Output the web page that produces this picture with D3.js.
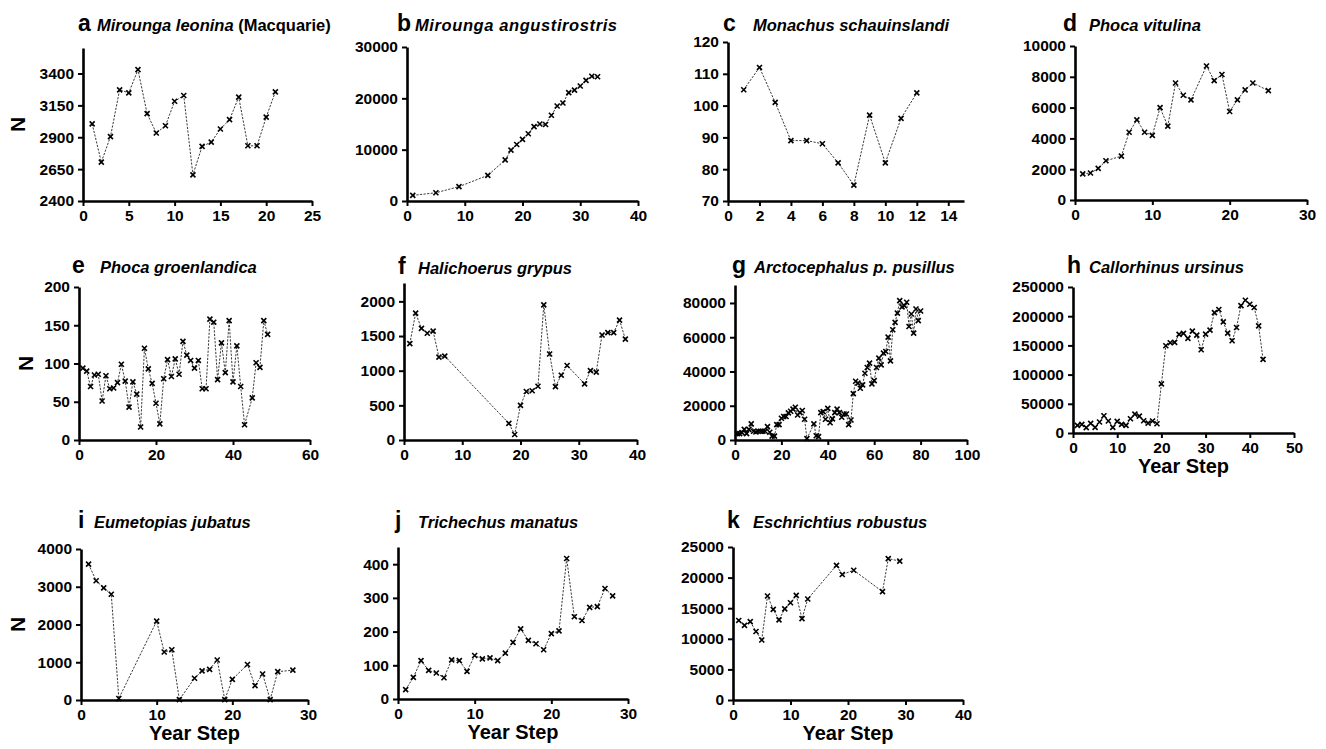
<!DOCTYPE html>
<html>
<head>
<meta charset="utf-8">
<script src="https://cdn.jsdelivr.net/npm/d3@7"></script>
<style>
  body { margin: 0; background: #fff; }
  svg { display: block; font-family: Arial, "Liberation Sans", sans-serif; }
</style>
</head>
<body>
<svg width="1326" height="749"></svg>
<script>
// ---- data ----
const leoninaYear = [1,2,3,4,5,6,7,8,9,10,11,12,13,14,15,16,17,18,19,20,21];
const leoninaN = [3005,2705,2905,3272,3248,3430,3085,2933,2990,3182,3227,2605,2828,2862,2965,3038,3215,2833,2833,3058,3256];

const angustiYear = [1,5,9,14,17,18,19,20,21,22,23,24,25,26,27,28,29,30,31,32,33];
const angustiN = [1100,1600,2800,5000,8000,9900,11000,12000,13100,14500,15000,14900,16700,18500,19100,21100,21600,22400,23500,24300,24200];

const monachusYear = [1,2,3,4,5,6,7,8,9,10,11,12];
const monachusN = [105,112,101,89,89,88,82,75,97,82,96,104];

const vitulinaYear = [1,2,3,4,6,7,8,9,10,11,12,13,14,15,17,18,19,20,21,22,23,25];
const vitulinaN = [1700,1750,2050,2550,2850,4400,5200,4400,4200,6000,4800,7600,6800,6500,8700,7750,8150,5750,6500,7150,7600,7100];

const groenYear = [1,2,3,4,5,6,7,8,9,10,11,12,13,14,15,16,17,18,19,20,21,22,23,24,25,26,27,28,29,30,31,32,33,34,35,36,37,38,39,40,41,42,43,45,46,47,48,49];
const groenN = [94,90,70,85,86,51,84,67,68,75,99,77,43,76,60,17,120,93,74,48,21,80,105,83,106,86,129,111,104,94,104,67,67,158,154,79,127,88,156,76,123,70,20,55,101,95,156,138];

const grypusYear = [1,2,3,4,5,6,7,18,19,20,21,22,23,24,25,26,27,28,31,32,33,34,35,36,37,38];
const grypusN = [1390,1830,1610,1540,1570,1195,1210,240,80,500,700,710,775,1950,1240,770,935,1075,810,1000,980,1515,1550,1550,1730,1455];

const pusillusYear = [1,2,3,4,5,6,7,8,9,10,11,12,13,14,15,16,17,18,19,20,21,22,23,24,25,26,27,28,29,30,31,34,35,36,37,38,39,40,41,42,43,44,45,46,47,48,49,50,51,52,53,54,55,56,57,58,59,60,61,62,63,64,65,66,67,68,69,70,71,72,73,74,75,76,77,78,79,80];
const pusillusN = [3700,3700,4300,6200,3700,6200,9400,5100,4700,5100,5100,5100,5100,7800,4500,2300,2300,9000,9000,12700,13700,13700,15800,16800,18000,19100,14600,16000,17200,12100,800,9400,2500,2000,16000,16600,12100,18500,10100,12300,16000,18000,16000,13300,15200,15200,9000,11700,27100,34300,33200,30200,32200,39000,42300,44900,32800,34700,42300,47800,43900,50700,51700,60100,46200,64400,68700,74100,81400,77700,78400,80400,66300,73600,62400,76500,69700,75300];

const ursinusYear = [1,2,3,4,5,6,7,8,9,10,11,12,13,14,15,16,17,18,19,20,21,22,23,24,25,26,27,28,29,30,31,32,33,34,35,36,37,38,39,40,41,42,43];
const ursinusN = [13000,14800,9100,16500,9700,18800,29500,20500,9700,19900,14800,13100,24400,32400,29000,21000,17000,20500,15900,84100,149400,154500,155100,168800,170500,162000,174400,167600,142600,169300,176100,206200,211400,190300,171000,158000,180700,218200,227300,220500,214800,183500,126100];

const jubatusYear = [1,2,3,4,5,10,11,12,13,15,16,17,18,19,20,22,23,24,25,26,28];
const jubatusN = [3600,3160,2970,2800,40,2090,1270,1330,10,575,770,810,1060,10,547,940,380,690,10,750,790];

const manatusYear = [1,2,3,4,5,6,7,8,9,10,11,12,13,14,15,16,17,18,19,20,21,22,23,24,25,26,27,28];
const manatusN = [28,64,114,85,77,63,116,114,82,129,119,122,114,136,168,208,174,164,146,194,202,417,244,233,272,274,328,306];

const robustusYear = [1,2,3,4,5,6,7,8,9,10,11,12,13,18,19,21,26,27,29];
const robustusN = [13000,12200,12800,11200,9800,17000,14800,13100,14900,15900,17100,13300,16500,22000,20500,21200,17700,23100,22700];

// tick labels
const aYTicks = [2400,2650,2900,3150,3400], aXTicks = [0,5,10,15,20,25];
const bYTicks = [0,10000,20000,30000], bXTicks = [0,10,20,30,40];
const cYTicks = [70,80,90,100,110,120], cXTicks = [0,2,4,6,8,10,12,14];
const dYTicks = [0,2000,4000,6000,8000,10000], dXTicks = [0,10,20,30];
const eYTicks = [0,50,100,150,200], eXTicks = [0,20,40,60];
const fYTicks = [0,500,1000,1500,2000], fXTicks = [0,10,20,30,40];
const gYTicks = [0,20000,40000,60000,80000], gXTicks = [0,20,40,60,80,100];
const hYTicks = [0,50000,100000,150000,200000,250000], hXTicks = [0,10,20,30,40,50];
const iYTicks = [0,1000,2000,3000,4000], iXTicks = [0,10,20,30];
const jYTicks = [0,100,200,300,400], jXTicks = [0,10,20,30];
const kYTicks = [0,5000,10000,15000,20000,25000], kXTicks = [0,10,20,30,40];

// ---- panel layout ----
const panels = [
  {letter:"a", name:"Mirounga leonina", extra:" (Macquarie)", years:leoninaYear, n:leoninaN, xd:[0,25], yd:[2400,3600], xt:aXTicks, yt:aYTicks,
   px:[83,312], py:[201,48], lx:78, nx:97, by:31, yLab:18},
  {letter:"b", name:"Mirounga angustirostris", years:angustiYear, n:angustiN, xd:[0,40], yd:[0,30000], xt:bXTicks, yt:bYTicks,
   px:[407,638], py:[201,47], lx:397, nx:415, by:31, ls:0.6},
  {letter:"c", name:"Monachus schauinslandi", years:monachusYear, n:monachusN, xd:[0,15], yd:[70,120], xt:cXTicks, yt:cYTicks,
   px:[728,964], py:[201,42], lx:723, nx:753, by:31},
  {letter:"d", name:"Phoca vitulina", years:vitulinaYear, n:vitulinaN, xd:[0,30], yd:[0,10000], xt:dXTicks, yt:dYTicks,
   px:[1075,1307], py:[200,46], lx:1063, nx:1089, by:31},
  {letter:"e", name:"Phoca groenlandica", years:groenYear, n:groenN, xd:[0,60], yd:[0,200], xt:eXTicks, yt:eYTicks,
   px:[79,310], py:[440,287], lx:72, nx:100, by:273, yLab:26},
  {letter:"f", name:"Halichoerus grypus", years:grypusYear, n:grypusN, xd:[0,40], yd:[0,2265], xt:fXTicks, yt:fYTicks,
   px:[404,637], py:[440,283], lx:398, nx:418, by:274},
  {letter:"g", name:"Arctocephalus p. pusillus", years:pusillusYear, n:pusillusN, xd:[0,100], yd:[0,90500], xt:gXTicks, yt:gYTicks,
   px:[735,967], py:[440,285], lx:732, nx:754, by:273},
  {letter:"h", name:"Callorhinus ursinus", years:ursinusYear, n:ursinusN, xd:[0,50], yd:[0,250000], xt:hXTicks, yt:hYTicks,
   px:[1073,1294], py:[433,287], lx:1067, nx:1089, by:273, xLab:true},
  {letter:"i", name:"Eumetopias jubatus", years:jubatusYear, n:jubatusN, xd:[0,30], yd:[0,4000], xt:iXTicks, yt:iYTicks,
   px:[81,308], py:[700,549], lx:78, nx:94, by:528, yLab:18, xLab:true},
  {letter:"j", name:"Trichechus manatus", years:manatusYear, n:manatusN, xd:[0,30], yd:[0,451], xt:jXTicks, yt:jYTicks,
   px:[398,628], py:[699,547], lx:395, nx:418, by:528, xLab:true},
  {letter:"k", name:"Eschrichtius robustus", years:robustusYear, n:robustusN, xd:[0,40], yd:[0,25000], xt:kXTicks, yt:kYTicks,
   px:[733,963], py:[700,547], lx:727, nx:753, by:528, xLab:true}
];

const svg = d3.select("svg");
const marker = d3.symbol().type(d3.symbolX).size(18);

panels.forEach(p => {
  const x = d3.scaleLinear().domain(p.xd).range(p.px);
  const y = d3.scaleLinear().domain(p.yd).range(p.py);
  const g = svg.append("g");

  // axes
  const yAxis = d3.axisLeft(y).tickValues(p.yt).tickFormat(d3.format("d"))
    .tickSize(5).tickSizeOuter(0).tickPadding(4);
  const xAxis = d3.axisBottom(x).tickValues(p.xt).tickFormat(d3.format("d"))
    .tickSize(5).tickSizeOuter(0).tickPadding(4);

  g.append("g").attr("transform", `translate(${p.px[0]},0)`).call(yAxis);
  g.append("g").attr("transform", `translate(0,${p.py[0]})`).call(xAxis);

  g.selectAll(".domain").attr("stroke", "#000").attr("stroke-width", 2.6);
  g.selectAll(".tick line").attr("stroke", "#000").attr("stroke-width", 2);
  g.selectAll(".tick text")
    .attr("fill", "#000")
    .style("font-size", "15.5px")
    .style("font-weight", "bold")
    .style("font-family", "Arial, 'Liberation Sans', sans-serif");

  // series line
  const pts = p.years.map((yr, i) => [yr, p.n[i]]);
  const line = d3.line().x(d => x(d[0])).y(d => y(d[1]));
  g.append("path")
    .datum(pts)
    .attr("d", line)
    .attr("fill", "none")
    .attr("stroke", "#222")
    .attr("stroke-width", 0.9)
    .attr("stroke-dasharray", "2.2,1.4");

  g.selectAll("path.pt")
    .data(pts)
    .join("path")
    .attr("class", "pt")
    .attr("transform", d => `translate(${x(d[0])},${y(d[1])})`)
    .attr("d", marker)
    .attr("fill", "none")
    .attr("stroke", "#000")
    .attr("stroke-width", 1.6);

  // title
  g.append("text")
    .attr("x", p.lx).attr("y", p.by)
    .style("font-size", "23px").style("font-weight", "bold")
    .text(p.letter);
  const t = g.append("text")
    .attr("x", p.nx).attr("y", p.by)
    .style("font-size", "16.5px").style("font-weight", "bold").style("font-style", "italic")
    .style("letter-spacing", (p.ls || 0) + "px")
    .text(p.name);
  if (p.extra) t.append("tspan").style("font-style", "normal").text(p.extra);

  if (p.yLab) {
    const cy = (p.py[0] + p.py[1]) / 2;
    g.append("text")
      .attr("transform", `translate(${p.yLab + 7},${cy}) rotate(-90)`)
      .attr("text-anchor", "middle")
      .style("font-size", "21px").style("font-weight", "bold")
      .text("N");
  }
  if (p.xLab) {
    g.append("text")
      .attr("x", (p.px[0] + p.px[1]) / 2).attr("y", p.py[0] + 40)
      .attr("text-anchor", "middle")
      .style("font-size", "20px").style("font-weight", "bold")
      .text("Year Step");
  }
});
</script>
</body>
</html>
